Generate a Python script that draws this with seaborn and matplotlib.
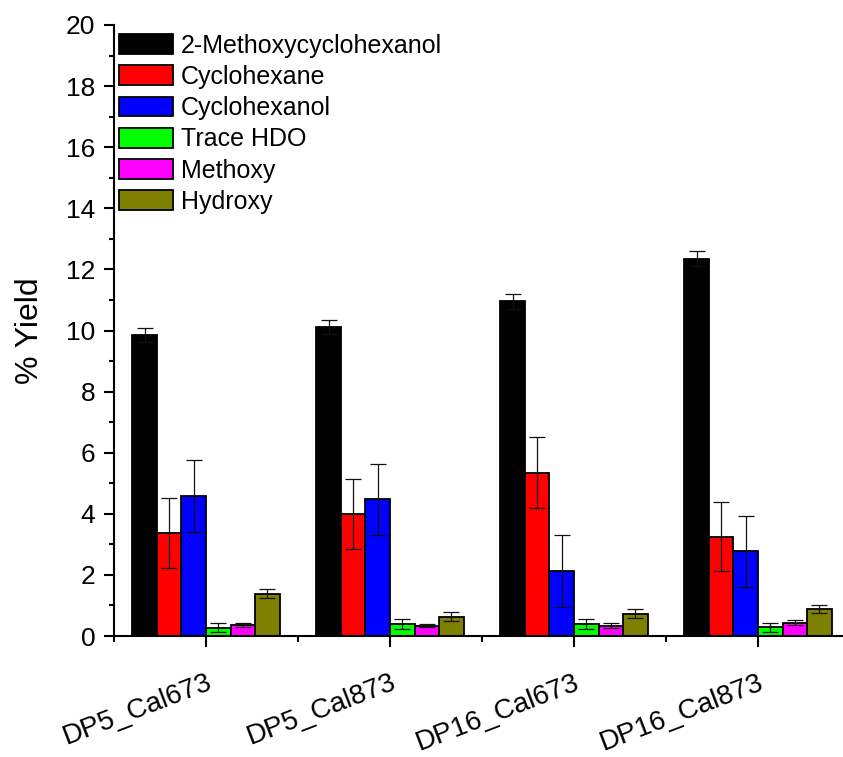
import numpy as np
import pandas as pd
import matplotlib
matplotlib.use("Agg")
import matplotlib.pyplot as plt
import seaborn as sns

samples = ["DP5_Cal673", "DP5_Cal873", "DP16_Cal673", "DP16_Cal873"]
products = ["2-Methoxycyclohexanol", "Cyclohexane", "Cyclohexanol", "Trace HDO", "Methoxy", "Hydroxy"]

methoxycyclohexanol = [9.85, 10.12, 10.95, 12.35]
cyclohexane = [3.38, 3.99, 5.35, 3.25]
cyclohexanol = [4.58, 4.47, 2.12, 2.78]
trace_hdo = [0.27, 0.40, 0.40, 0.29]
methoxy = [0.36, 0.34, 0.33, 0.44]
hydroxy = [1.39, 0.63, 0.73, 0.88]

err_methoxycyclohexanol = [0.24, 0.23, 0.25, 0.24]
err_cyclohexane = [1.14, 1.15, 1.15, 1.13]
err_cyclohexanol = [1.17, 1.17, 1.18, 1.16]
err_trace_hdo = [0.15, 0.16, 0.16, 0.15]
err_methoxy = [0.06, 0.06, 0.08, 0.08]
err_hydroxy = [0.14, 0.14, 0.14, 0.14]

colors = ["#000000", "#FF0000", "#0000FF", "#00FF00", "#FF00FF", "#808000"]

values = [methoxycyclohexanol, cyclohexane, cyclohexanol, trace_hdo, methoxy, hydroxy]
errors = [err_methoxycyclohexanol, err_cyclohexane, err_cyclohexanol, err_trace_hdo, err_methoxy, err_hydroxy]

rows = []
for p, vals, errs in zip(products, values, errors):
    for s, v, e in zip(samples, vals, errs):
        rows.append({"Sample": s, "Product": p, "Yield": v, "Err": e})
df = pd.DataFrame(rows)

sns.set_style("ticks")
plt.rcParams["font.family"] = ["Liberation Sans", "DejaVu Sans"]
for key in ["text.color", "axes.labelcolor", "xtick.color", "ytick.color", "axes.edgecolor"]:
    plt.rcParams[key] = "black"

fig = plt.figure(figsize=(8.43, 7.57), dpi=100)
ax = fig.add_axes([114 / 843, 1 - 636 / 757, 736 / 843, (636 - 25) / 757])

sns.barplot(data=df, x="Sample", y="Yield", hue="Product", order=samples,
            hue_order=products, palette=colors, errorbar=None, width=0.8,
            edgecolor="black", linewidth=1.3, saturation=1, ax=ax)

# error bars at bar centres
for container, p in zip(ax.containers, products):
    sub = df[df["Product"] == p].set_index("Sample").loc[samples]
    xs = [bar.get_x() + bar.get_width() / 2 for bar in container]
    ys = [bar.get_height() for bar in container]
    ax.errorbar(xs, ys, yerr=sub["Err"].values, fmt="none", ecolor="#111111",
                elinewidth=0.9, capsize=5.5, capthick=0.9, zorder=5)

ax.set_xlim(-0.5, 3.5)
ax.set_ylim(0, 20)
ax.set_yticks(np.arange(0, 21, 2))
ax.set_yticks(np.arange(1, 20, 2), minor=True)
ax.set_xticks(np.arange(-0.5, 3.6, 1.0), minor=True)
ax.set_xticks(range(len(samples)))
ax.set_xticklabels(samples, rotation=21, ha="right", va="top",
                   rotation_mode="anchor", fontsize=20)
ax.tick_params(axis="y", which="major", direction="out", length=7.5, width=1.5, labelsize=19, pad=6)
ax.tick_params(axis="y", which="minor", direction="out", length=3.8, width=1.5)
ax.tick_params(axis="x", which="major", direction="out", length=8, width=1.5, pad=16)
ax.tick_params(axis="x", which="minor", direction="out", length=4.5, width=1.5)

for side in ["top", "right"]:
    ax.spines[side].set_visible(False)
for side in ["left", "bottom"]:
    ax.spines[side].set_linewidth(1.5)

ax.set_xlabel("")
ax.set_ylabel("% Yield", fontsize=23, labelpad=15)

handles, labels = ax.get_legend_handles_labels()
ax.legend(handles, labels, loc="upper left", bbox_to_anchor=(0.0, 0.994),
          frameon=False, fontsize=18, handlelength=2.16, handleheight=0.84,
          labelspacing=0.29, handletextpad=0.32, borderaxespad=0.0, borderpad=0.2)

fig.savefig("out.png", dpi=100)
